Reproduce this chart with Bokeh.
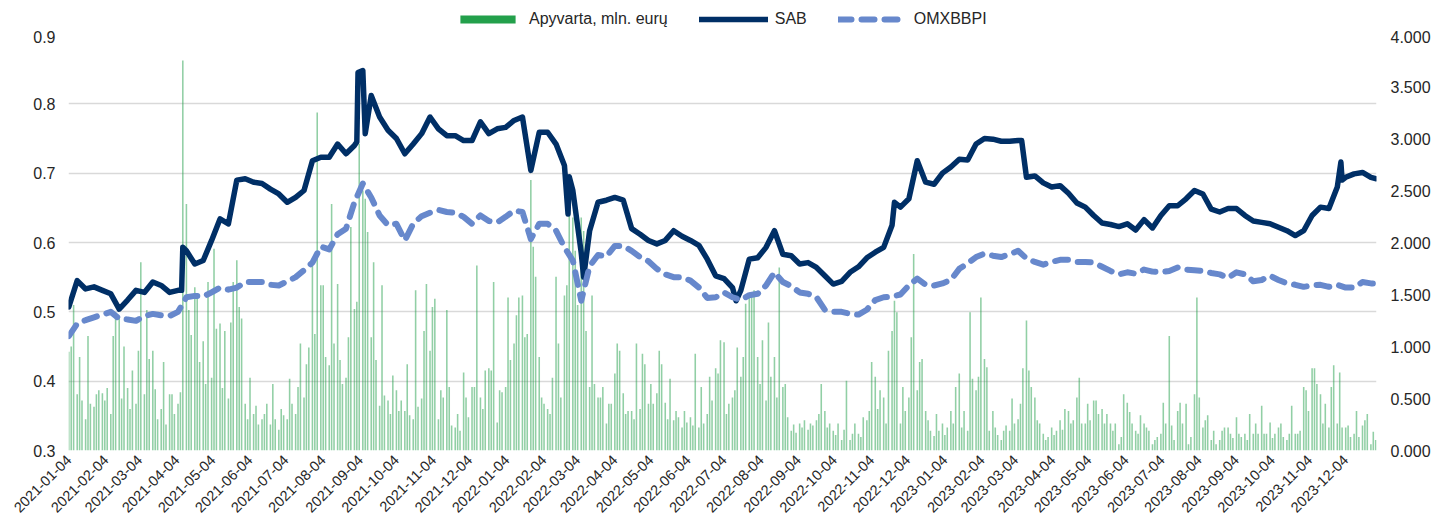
import math
import pandas as pd
from bokeh.plotting import figure
from bokeh.layouts import column
from bokeh.models import (Range1d, LinearAxis, FixedTicker, PrintfTickFormatter,
                          DatetimeTickFormatter, Legend, LegendItem)
from bokeh.embed import file_html
from bokeh.resources import INLINE

# ---------------- data ----------------
# weekly sampling (Mondays from 2021-01-04) + last trading day
week_start = "2021-01-04"
n_weeks = 156
last_day = "2023-12-29"

# SAB share price, EUR (left axis), weekly
sab = [0.507, 0.545, 0.533, 0.536, 0.531, 0.526, 0.504, 0.517, 0.531, 0.528,
       0.543, 0.538, 0.528, 0.531, 0.588, 0.569, 0.574, 0.603, 0.634, 0.627,
       0.690, 0.692, 0.687, 0.685, 0.677, 0.670, 0.658, 0.665, 0.675, 0.718,
       0.723, 0.723, 0.742, 0.728, 0.740, 0.848, 0.812, 0.781, 0.762, 0.750,
       0.728, 0.742, 0.757, 0.781, 0.764, 0.754, 0.754, 0.747, 0.747, 0.774,
       0.757, 0.764, 0.766, 0.776, 0.781, 0.704, 0.759, 0.759, 0.742, 0.711,
       0.675, 0.585, 0.617, 0.658, 0.661, 0.665, 0.661, 0.620, 0.612, 0.603,
       0.598, 0.603, 0.617, 0.609, 0.603, 0.596, 0.576, 0.552, 0.548, 0.535,
       0.531, 0.576, 0.578, 0.593, 0.617, 0.583, 0.581, 0.569, 0.571, 0.564,
       0.552, 0.540, 0.544, 0.557, 0.565, 0.578, 0.586, 0.593, 0.625, 0.651,
       0.663, 0.718, 0.687, 0.684, 0.700, 0.709, 0.720, 0.719, 0.742, 0.750,
       0.749, 0.746, 0.746, 0.747, 0.694, 0.696, 0.686, 0.680, 0.682, 0.671,
       0.657, 0.651, 0.639, 0.628, 0.626, 0.623, 0.627, 0.618, 0.633, 0.621,
       0.639, 0.653, 0.653, 0.663, 0.675, 0.670, 0.648, 0.644, 0.649, 0.649,
       0.639, 0.631, 0.629, 0.627, 0.622, 0.617, 0.610, 0.617, 0.639, 0.651,
       0.649, 0.680, 0.694, 0.699, 0.701, 0.694, 0.692]
# extra SAB points at sharp moves
sab_extra_dates = ["2021-04-08", "2021-04-09", "2021-09-01", "2021-09-02", "2021-09-08",
                   "2022-02-24", "2022-02-25", "2022-03-09", "2022-07-14", "2022-11-23",
                   "2023-03-09", "2023-11-30", "2023-12-01"]
sab_extra = [0.531, 0.593, 0.745, 0.845, 0.757,
             0.641, 0.695, 0.550, 0.516, 0.658,
             0.747, 0.716, 0.690]

# OMXBBPI index, drawn in left-axis units, weekly
omx = [0.465, 0.483, 0.488, 0.492, 0.496, 0.500, 0.490, 0.489, 0.487, 0.494,
       0.497, 0.495, 0.494, 0.500, 0.521, 0.523, 0.522, 0.528, 0.535, 0.532,
       0.535, 0.543, 0.543, 0.543, 0.539, 0.538, 0.544, 0.550, 0.560, 0.571,
       0.594, 0.590, 0.612, 0.620, 0.658, 0.685, 0.665, 0.639, 0.625, 0.627,
       0.603, 0.627, 0.638, 0.643, 0.647, 0.644, 0.643, 0.637, 0.627, 0.639,
       0.631, 0.629, 0.637, 0.646, 0.644, 0.605, 0.627, 0.627, 0.617, 0.593,
       0.574, 0.516, 0.566, 0.582, 0.580, 0.595, 0.595, 0.588, 0.579, 0.573,
       0.562, 0.554, 0.550, 0.550, 0.545, 0.535, 0.520, 0.521, 0.528, 0.521,
       0.517, 0.524, 0.526, 0.538, 0.557, 0.543, 0.537, 0.528, 0.526, 0.521,
       0.503, 0.500, 0.500, 0.497, 0.496, 0.503, 0.517, 0.521, 0.522, 0.525,
       0.538, 0.548, 0.539, 0.538, 0.541, 0.546, 0.562, 0.570, 0.579, 0.584,
       0.581, 0.579, 0.583, 0.588, 0.577, 0.572, 0.568, 0.572, 0.575, 0.575,
       0.572, 0.572, 0.571, 0.565, 0.559, 0.554, 0.557, 0.555, 0.561, 0.558,
       0.557, 0.559, 0.564, 0.561, 0.560, 0.559, 0.556, 0.554, 0.549, 0.557,
       0.554, 0.544, 0.546, 0.552, 0.546, 0.541, 0.539, 0.536, 0.538, 0.539,
       0.536, 0.539, 0.535, 0.535, 0.543, 0.541, 0.541]

# Turnover, mln EUR (right axis) - Mon / Wed / Fri of each week
bar_day_offsets = [0, 2, 4]
turnover = [
    0.95, 1.0, 1.4,   0.54, 0.9, 0.48,  0.3, 1.1, 0.45,  0.42, 0.54, 0.58,
    0.55, 0.48, 0.6,  0.35, 1.1, 1.33,  1.28, 0.5, 1.0,  0.6, 0.4, 0.77,
    0.45, 0.96, 1.81, 0.54, 1.35, 0.88, 0.96, 0.59, 0.3,  0.4, 0.85, 0.25,
    0.54, 0.54, 0.35, 0.45, 0.56, 3.75, 2.37, 1.35, 1.11, 1.57, 1.46, 0.85,
    1.05, 0.64, 1.62, 0.7, 1.94, 1.17, 1.22, 0.6, 1.15,  0.5, 1.23, 1.62,
    1.83, 1.38, 1.27, 0.45, 0.3, 0.7,  0.35, 0.43, 0.25, 0.3, 0.35, 0.45,
    0.25, 0.64, 0.3,  0.2, 0.4, 0.34,  0.3, 0.69, 0.45,  0.35, 0.61, 1.03,
    0.51, 0.83, 0.99, 1.78, 1.12, 3.25, 1.59, 1.59, 0.9, 0.82, 2.37, 1.03,
    1.6, 0.87, 0.64,  0.7, 1.09, 2.15,  1.36, 1.43, 2.95, 2.5, 2.42, 2.1,
    1.09, 1.81, 0.87, 0.43, 1.59, 0.53, 0.48, 0.35, 0.72, 0.58, 0.38, 0.48,
    0.38, 0.83, 0.34, 0.3, 1.54, 0.42,  0.5, 1.15, 1.6,  0.96, 1.38, 1.46,
    0.3, 0.58, 0.51,  1.35, 0.61, 0.24, 0.22, 0.35, 0.19, 0.75, 0.51, 0.32,
    0.61, 0.61, 1.78, 0.51, 0.4, 0.77,  0.79, 0.77, 1.62, 0.27, 0.58, 0.56,
    0.61, 1.47, 0.87, 1.03, 1.3, 1.47,  1.49, 1.09, 1.12, 2.6, 1.96, 1.67,
    0.9, 0.51, 0.45,  0.4, 0.35, 0.7,   1.67, 1.03, 0.51, 1.49, 1.59, 2.28,
    2.24, 1.92, 1.4,  2.24, 2.11, 1.15, 0.61, 1.49, 0.64, 0.51, 0.51, 0.61,
    0.26, 0.45, 0.45, 0.74, 1.03, 0.96, 0.55, 0.35, 0.38, 0.38, 0.3, 1.03,
    0.4, 0.93, 0.83,  0.45, 0.64, 0.45, 0.55, 0.96, 0.83, 0.46, 0.3, 0.69,
    0.29, 0.38, 0.32, 0.22, 0.38, 0.27, 0.32, 0.24, 0.93, 0.22, 0.61, 0.26,
    0.35, 0.71, 0.48, 0.79, 0.74, 1.06, 1.04, 0.35, 0.45, 0.51, 0.58, 0.99,
    0.71, 0.9, 1.41,  1.47, 1.5, 1.54,  0.9, 0.64, 1.06,  0.48, 1.23, 0.71,
    0.9, 0.51, 1.76,  0.61, 0.64, 0.32, 0.19, 0.25, 0.17, 0.26, 0.22, 0.29,
    0.2, 0.26, 0.24,  0.29, 0.35, 0.64, 0.38, 0.22, 0.26, 0.19, 0.15, 0.26,
    0.1, 0.2, 0.67,   0.1, 0.16, 0.26,  0.16, 0.13, 0.32, 0.29, 0.38, 0.85,
    0.71, 0.4, 0.58,  0.51, 0.26, 0.96, 1.15, 1.44, 1.33, 0.26, 0.61, 0.38,
    0.51, 1.09, 1.89, 0.58, 0.85, 0.88, 0.38, 0.29, 0.19, 0.14, 0.35, 0.19,
    0.26, 0.15, 0.22, 0.38, 0.26, 0.61, 0.74, 0.22, 0.38, 0.19, 1.33, 0.69,
    0.58, 0.71, 1.47, 0.88, 0.8, 0.19,  0.38, 0.22, 0.15, 0.1, 0.19, 0.24,
    0.19, 0.5, 0.26,  0.3, 0.45, 0.79,  1.25, 0.77, 0.61, 0.51, 0.29, 0.26,
    0.16, 0.1, 0.13,  0.22, 0.15, 0.19, 0.29, 0.2, 0.4,   0.38, 0.26, 0.29,
    0.51, 0.7, 0.26,  0.26, 0.45, 0.29, 0.48, 0.48, 0.35, 0.4, 0.26, 0.35,
    0.26, 0.19, 0.26, 0.06, 0.13, 0.54, 0.46, 0.37, 0.26, 0.19, 0.16, 0.34,
    0.26, 0.22, 0.19, 0.06, 0.1, 0.13,  0.16, 0.46, 0.26, 1.1, 0.24, 0.1,
    0.38, 0.46, 0.26, 0.45, 0.06, 0.13, 0.54, 1.47, 0.51, 0.22, 0.29, 0.34,
    0.1, 0.19, 0.06,  0.1, 0.19, 0.22,  0.22, 0.16, 0.12, 0.32, 0.16, 0.13,
    0.16, 0.1, 0.35,  0.16, 0.26, 0.16, 0.43, 0.16, 0.16, 0.27, 0.12, 0.16,
    0.22, 0.26, 0.13, 0.1, 0.16, 0.43,  0.16, 0.16, 0.19, 0.61, 0.58, 0.38,
    0.79, 0.79, 0.64, 0.54, 0.26, 0.45, 0.22, 0.61, 0.82, 0.26, 0.75, 0.22,
    0.22, 0.24, 0.13, 0.16, 0.38, 0.13, 0.24, 0.29, 0.35, 0.06, 0.18, 0.1,
]

left_ticks = [0.3, 0.4, 0.5, 0.6, 0.7, 0.8, 0.9]
right_ticks = [0.0, 0.5, 1.0, 1.5, 2.0, 2.5, 3.0, 3.5, 4.0]
x_tick_first = "2021-01-04"
x_tick_last = "2023-12-04"

labels = ["Apyvarta, mln. eurų", "SAB", "OMXBBPI"]

# ---------------- build ----------------
mondays = list(pd.date_range(week_start, periods=n_weeks, freq="7D"))
line_dates = mondays + [pd.Timestamp(last_day)]
bar_dates = [m + pd.Timedelta(days=d) for m in mondays for d in bar_day_offsets]

sab_df = pd.DataFrame({"d": line_dates + [pd.Timestamp(s) for s in sab_extra_dates],
                       "v": sab + sab_extra}).sort_values("d")

FONT = "Liberation Sans"
TXT = "#262626"
GREEN = "#23A04B"
NAVY = "#002F66"
BLUE = "#6788CC"
SAB_W = 5.5
OMX_W = 6
OMX_DASH = "13 10"

# ---- legend strip (its own small figure; frame is aligned with the main chart) ----
lf = figure(width=1433, height=30, x_range=Range1d(0, 1), y_range=Range1d(0, 1),
            output_backend="svg", toolbar_location=None, min_border=0,
            x_axis_location=None, y_axis_location=None)
lf.outline_line_color = None
lf.grid.visible = False
# placeholder glyphs outside the visible range, only used to draw the legend keys
lg_bar = lf.vbar(x=[-5], top=[-5], bottom=[-6], width=1, fill_color=GREEN, line_color=None)
lg_sab = lf.line(x=[-6, -5], y=[-5, -5], line_width=SAB_W, line_color=NAVY, line_cap="round")
lg_omx = lf.line(x=[-6, -5], y=[-5, -5], line_width=OMX_W, line_color=BLUE,
                 line_dash=OMX_DASH, line_cap="round")
legend = Legend(items=[LegendItem(label=labels[0], renderers=[lg_bar]),
                       LegendItem(label=labels[1], renderers=[lg_sab]),
                       LegendItem(label=labels[2], renderers=[lg_omx])],
                orientation="horizontal", location=(385, 2),
                glyph_width=69, glyph_height=10, label_height=16, label_standoff=7, spacing=31,
                padding=0, margin=0, border_line_color=None, background_fill_alpha=0,
                label_text_font=FONT, label_text_font_size="16px", label_text_color=TXT)
lf.add_layout(legend, "center")

# ---- main chart ----
p = figure(width=1433, height=498, x_axis_type="datetime",
           x_range=Range1d(pd.Timestamp("2021-01-03 18:00"), pd.Timestamp("2023-12-29 16:00")),
           y_range=Range1d(0.3, 0.9),
           output_backend="svg", toolbar_location=None,
           min_border_left=68, min_border_right=55, min_border_top=4, min_border_bottom=78)
p.extra_y_ranges = {"right": Range1d(0, 4)}
p.outline_line_color = None

p.vbar(x=bar_dates, top=turnover, bottom=0, width=1.3 * 86400000,
       y_range_name="right", fill_color=GREEN, fill_alpha=0.5, line_color=None)
p.line(sab_df["d"], sab_df["v"], line_width=SAB_W, line_color=NAVY, line_join="round",
       line_cap="round")
p.line(line_dates, omx, line_width=OMX_W, line_color=BLUE, line_dash=OMX_DASH,
       line_cap="round", line_join="round")

p.yaxis.ticker = FixedTicker(ticks=left_ticks)
p.yaxis.formatter = PrintfTickFormatter(format="%.1f")
right_axis = LinearAxis(y_range_name="right", ticker=FixedTicker(ticks=right_ticks),
                        formatter=PrintfTickFormatter(format="%.3f"))
p.add_layout(right_axis, "right")

xt = [t.timestamp() * 1000 for t in pd.date_range(x_tick_first, x_tick_last, freq=pd.DateOffset(months=1))]
p.xaxis.ticker = FixedTicker(ticks=xt)
fmt = "%Y-%m-%d"
p.xaxis.formatter = DatetimeTickFormatter(microseconds=fmt, milliseconds=fmt, seconds=fmt,
                                          minsec=fmt, minutes=fmt, hourmin=fmt, hours=fmt,
                                          days=fmt, months=fmt, years=fmt)
p.xaxis.major_label_orientation = math.pi / 4

for ax in p.axis:
    ax.axis_line_color = None
    ax.major_tick_line_color = None
    ax.minor_tick_line_color = None
    ax.major_tick_out = 0
    ax.major_tick_in = 0
    ax.minor_tick_out = 0
    ax.major_label_text_font = FONT
    ax.major_label_text_font_size = "16px"
    ax.major_label_text_color = TXT
p.xaxis.major_label_text_font_size = "14.5px"
p.yaxis[0].major_label_standoff = 13
right_axis.major_label_standoff = 14
p.xaxis.major_label_standoff = 7

p.xgrid.grid_line_color = None
p.ygrid.ticker = FixedTicker(ticks=left_ticks)
p.ygrid.grid_line_color = "#D9D9D9"
p.ygrid.grid_line_width = 1.5

open("out.html", "w").write(file_html(column(lf, p), INLINE))
